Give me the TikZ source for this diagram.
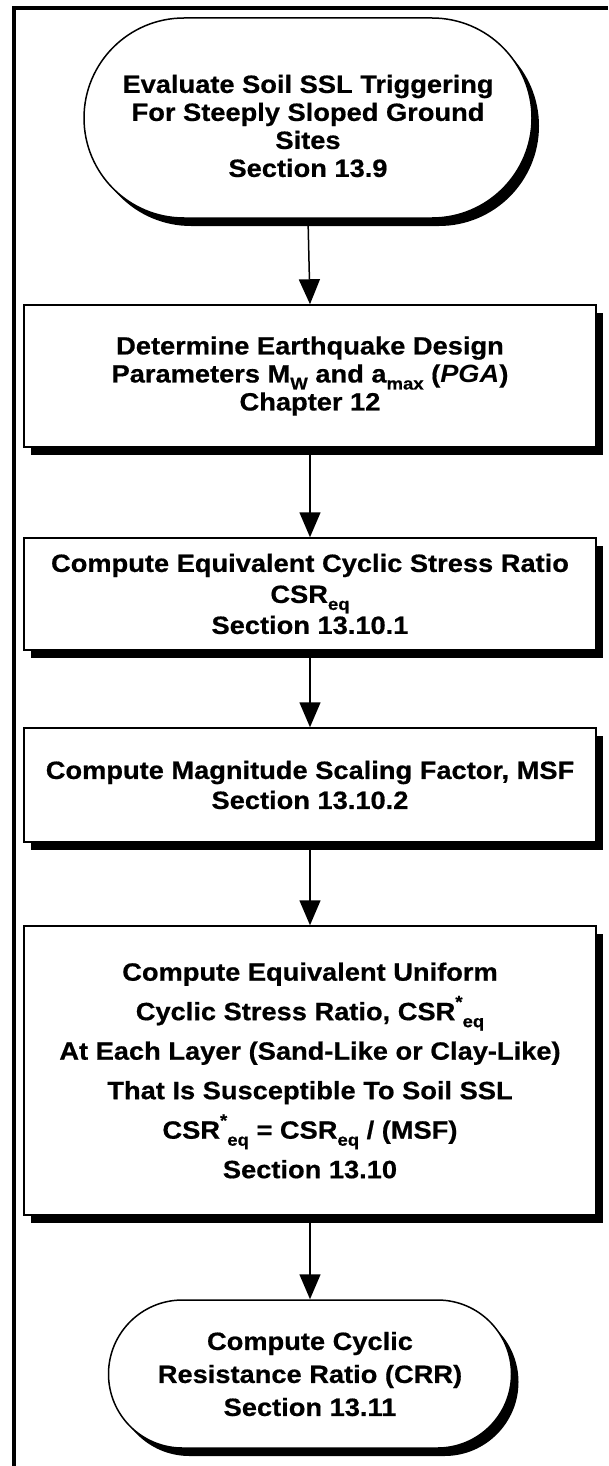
\documentclass[tikz,border=0pt]{standalone}
\usepackage{fontspec}
\setmainfont{Liberation Sans}[FakeStretch=1.09,BoldFeatures={FakeBold=0.6}]
\usetikzlibrary{shapes.misc,shadows,arrows.meta}
\newcommand{\lo}[1]{\raisebox{-0.28em}{\fontsize{17}{17}\selectfont #1}}
\newcommand{\hi}[1]{\raisebox{0.5em}{\fontsize{17}{17}\selectfont #1}}
\begin{document}
\begin{tikzpicture}[x=1pt,y=1pt,
  shad/.style={drop shadow={shadow xshift=7pt,shadow yshift=-8pt,fill=black,opacity=1}},
  txt/.style={font=\bfseries\fontsize{25}{#1}\selectfont},
  procbox/.style={draw,line width=1.5pt,fill=white,shad,rectangle,minimum width=572pt,align=center,inner sep=0pt},
  termbox/.style={draw,line width=1.5pt,fill=white,shad,rounded rectangle,rounded rectangle arc length=180,align=center,inner sep=0pt},
  conn/.style={line width=1.5pt,-{Triangle[length=25pt,width=21pt]}}]
\useasboundingbox (0,0) rectangle (608,-1466);
\draw[line width=4pt] (14,-1466) -- (14,-8) -- (608,-8);

\node[termbox,minimum width=448pt,minimum height=200pt] (s1) at (308,-118) {};
\node[txt=28,align=center] (s1t) at (308,-126)
  {Evaluate Soil SSL Triggering\\For Steeply Sloped Ground\\Sites\\Section 13.9};
\node[procbox,minimum height=142pt,txt=28] (b2) at (310,-376)
  {Determine Earthquake Design\\Parameters M\lo{W} and a\lo{max} (\textit{PGA})\\Chapter 12};
\node[procbox,minimum height=112pt,txt=31] (b3) at (310,-594)
  {Compute Equivalent Cyclic Stress Ratio\\CSR\lo{eq}\\Section 13.10.1};
\node[procbox,minimum height=114pt,txt=30] (b4) at (310,-785)
  {Compute Magnitude Scaling Factor, MSF\\Section 13.10.2};
\node[procbox,minimum height=289pt,txt=39.5] (b5) at (310,-1070.5)
  {Compute Equivalent Uniform\\Cyclic Stress Ratio, CSR\hi{*}\lo{eq}\\At Each Layer (Sand-Like or Clay-Like)\\That Is Susceptible To Soil SSL\\CSR\hi{*}\lo{eq} = CSR\lo{eq} / (MSF)\\Section 13.10};
\node[termbox,minimum width=403pt,minimum height=148pt,txt=33] (s6) at (310,-1374)
  {Compute Cyclic\\Resistance Ratio (CRR)\\Section 13.11};

\draw[conn] (s1.south) -- (b2.north);
\draw[conn] (b2.south) -- (b3.north);
\draw[conn] (b3.south) -- (b4.north);
\draw[conn] (b4.south) -- (b5.north);
\draw[conn] (b5.south) -- (s6.north);
\end{tikzpicture}
\end{document}
